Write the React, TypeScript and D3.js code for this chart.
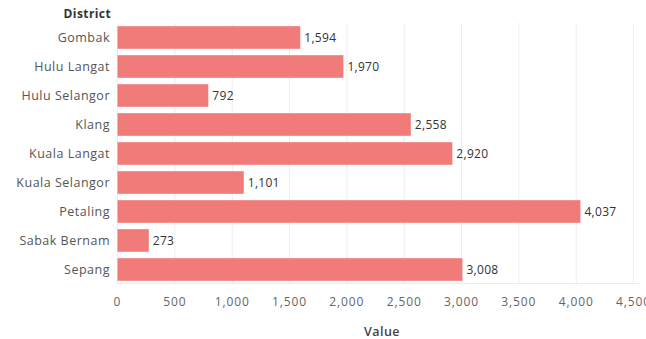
import React from "react";
import * as d3 from "d3";

const districts = ["Gombak", "Hulu Langat", "Hulu Selangor", "Klang", "Kuala Langat", "Kuala Selangor", "Petaling", "Sabak Bernam", "Sepang"];
const values = [1594, 1970, 792, 2558, 2920, 1101, 4037, 273, 3008];
const xTicks = [0, 500, 1000, 1500, 2000, 2500, 3000, 3500, 4000, 4500];

const W = 646;
const H = 339;
const FONT = "'Open Sans', 'Noto Sans', sans-serif";

export default function App() {
  const x = d3.scaleLinear().domain([0, 4500]).range([117.5, 633.5]);
  const y = d3.scaleBand<string>().domain(districts).range([23, 284]).paddingInner(0.22).paddingOuter(0.11);
  const fmt = d3.format(",");
  return (
    <svg width={W} height={H} style={{ position: "absolute", left: 0, top: 0, background: "#fff" }} fontFamily={FONT}>
      {xTicks.map((t) => (
        <line key={"g" + t} x1={x(t)} x2={x(t)} y1={23} y2={284} stroke="#ececec" strokeWidth={1} />
      ))}
      <line x1={117.5} x2={640} y1={283.5} y2={283.5} stroke="#ececec" />
      {districts.map((d, i) => (
        <g key={d}>
          <rect x={x(0)} y={y(d)} width={x(values[i]) - x(0)} height={y.bandwidth()} fill="#F07B79" />
          <text x={x(values[i]) + 4} y={(y(d) as number) + y.bandwidth() / 2} dy="0.35em" fontSize={12} letterSpacing={0.3} fill="#333">
            {fmt(values[i])}
          </text>
          <text x={110} y={(y(d) as number) + y.bandwidth() / 2} dy="0.35em" fontSize={12.5} letterSpacing={0.5} fill="#555" textAnchor="end">
            {d}
          </text>
        </g>
      ))}
      {xTicks.map((t) => (
        <text key={"t" + t} x={x(t)} y={302} dy="0.35em" fontSize={12} letterSpacing={0.9} fill="#666" textAnchor="middle">
          {fmt(t)}
        </text>
      ))}
      <text x={111} y={14} dy="0.35em" fontSize={12} fontWeight={700} letterSpacing={0.4} fill="#333" textAnchor="end">District</text>
      <text x={382} y={332} dy="0.35em" fontSize={12.5} fontWeight={600} letterSpacing={0.5} fill="#444" textAnchor="middle">Value</text>
    </svg>
  );
}
